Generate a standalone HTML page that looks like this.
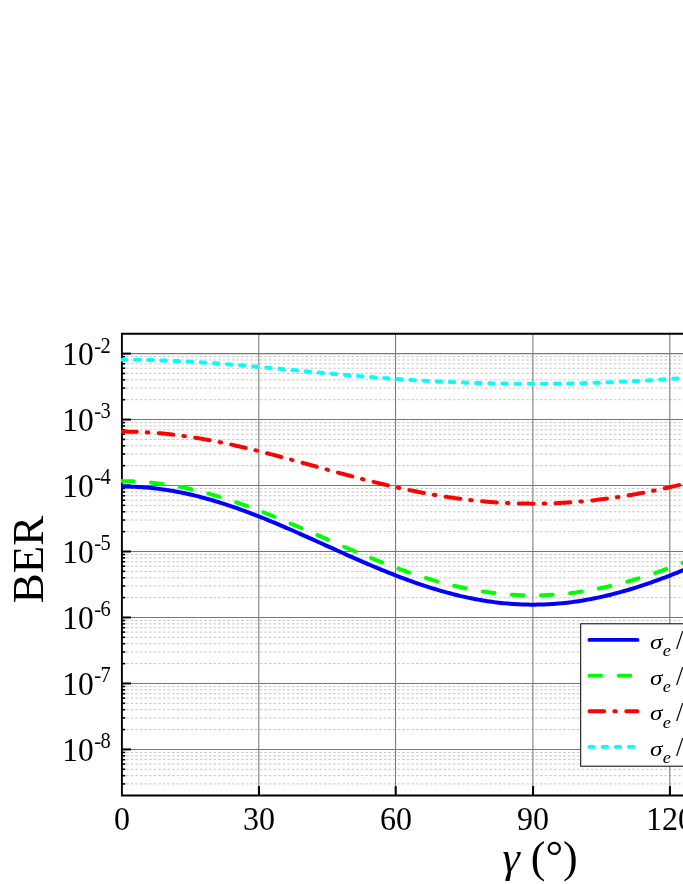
<!DOCTYPE html><html><head><meta charset="utf-8"><style>html,body{margin:0;padding:0;background:#fff}body{width:683px;height:884px;overflow:hidden}svg{display:block;will-change:transform}text{font-family:"Liberation Serif",serif;fill:#000}</style></head><body>
<svg width="683" height="884" viewBox="0 0 683 884">
<rect width="683" height="884" fill="#fff"/>
<g stroke="#c6c6c6" stroke-width="1" stroke-dasharray="2.6 2" fill="none">
<path d="M121.54,783.91H683"/>
<path d="M121.54,775.67H683"/>
<path d="M121.54,769.28H683"/>
<path d="M121.54,764.06H683"/>
<path d="M121.54,759.64H683"/>
<path d="M121.54,755.81H683"/>
<path d="M121.54,752.44H683"/>
<path d="M121.54,729.56H683"/>
<path d="M121.54,717.94H683"/>
<path d="M121.54,709.70H683"/>
<path d="M121.54,703.31H683"/>
<path d="M121.54,698.09H683"/>
<path d="M121.54,693.67H683"/>
<path d="M121.54,689.84H683"/>
<path d="M121.54,686.47H683"/>
<path d="M121.54,663.59H683"/>
<path d="M121.54,651.97H683"/>
<path d="M121.54,643.73H683"/>
<path d="M121.54,637.34H683"/>
<path d="M121.54,632.12H683"/>
<path d="M121.54,627.70H683"/>
<path d="M121.54,623.87H683"/>
<path d="M121.54,620.50H683"/>
<path d="M121.54,597.62H683"/>
<path d="M121.54,586.00H683"/>
<path d="M121.54,577.76H683"/>
<path d="M121.54,571.37H683"/>
<path d="M121.54,566.15H683"/>
<path d="M121.54,561.73H683"/>
<path d="M121.54,557.90H683"/>
<path d="M121.54,554.53H683"/>
<path d="M121.54,531.65H683"/>
<path d="M121.54,520.03H683"/>
<path d="M121.54,511.79H683"/>
<path d="M121.54,505.40H683"/>
<path d="M121.54,500.18H683"/>
<path d="M121.54,495.76H683"/>
<path d="M121.54,491.93H683"/>
<path d="M121.54,488.56H683"/>
<path d="M121.54,465.68H683"/>
<path d="M121.54,454.06H683"/>
<path d="M121.54,445.82H683"/>
<path d="M121.54,439.43H683"/>
<path d="M121.54,434.21H683"/>
<path d="M121.54,429.79H683"/>
<path d="M121.54,425.96H683"/>
<path d="M121.54,422.59H683"/>
<path d="M121.54,399.71H683"/>
<path d="M121.54,388.09H683"/>
<path d="M121.54,379.85H683"/>
<path d="M121.54,373.46H683"/>
<path d="M121.54,368.24H683"/>
<path d="M121.54,363.82H683"/>
<path d="M121.54,359.99H683"/>
<path d="M121.54,356.62H683"/>
</g>
<g stroke="#787878" stroke-width="1.05" fill="none">
<path d="M121.9,749.42H683"/>
<path d="M121.9,683.45H683"/>
<path d="M121.9,617.48H683"/>
<path d="M121.9,551.51H683"/>
<path d="M121.9,485.54H683"/>
<path d="M121.9,419.57H683"/>
<path d="M121.9,353.60H683"/>
<path d="M258.80,333.7V795.5"/>
<path d="M395.55,333.7V795.5"/>
<path d="M532.90,333.7V795.5"/>
<path d="M669.80,333.7V795.5"/>
</g>
<g stroke="#000" stroke-width="2" fill="none">
<path d="M121.9,749.42H131.0"/>
<path d="M121.9,683.45H131.0"/>
<path d="M121.9,617.48H131.0"/>
<path d="M121.9,551.51H131.0"/>
<path d="M121.9,485.54H131.0"/>
<path d="M121.9,419.57H131.0"/>
<path d="M121.9,353.60H131.0"/>
<path d="M258.95,795.5V786.1" stroke-width="2.1"/>
<path d="M395.70,795.5V786.1" stroke-width="2.1"/>
<path d="M533.05,795.5V786.1" stroke-width="2.1"/>
<path d="M669.95,795.5V786.1" stroke-width="2.1"/>
</g>
<g stroke="#000" stroke-width="1.6" fill="none">
<path d="M121.9,783.91H125.2"/>
<path d="M121.9,775.67H125.2"/>
<path d="M121.9,769.28H125.2"/>
<path d="M121.9,764.06H125.2"/>
<path d="M121.9,759.64H125.2"/>
<path d="M121.9,755.81H125.2"/>
<path d="M121.9,752.44H125.2"/>
<path d="M121.9,729.56H125.2"/>
<path d="M121.9,717.94H125.2"/>
<path d="M121.9,709.70H125.2"/>
<path d="M121.9,703.31H125.2"/>
<path d="M121.9,698.09H125.2"/>
<path d="M121.9,693.67H125.2"/>
<path d="M121.9,689.84H125.2"/>
<path d="M121.9,686.47H125.2"/>
<path d="M121.9,663.59H125.2"/>
<path d="M121.9,651.97H125.2"/>
<path d="M121.9,643.73H125.2"/>
<path d="M121.9,637.34H125.2"/>
<path d="M121.9,632.12H125.2"/>
<path d="M121.9,627.70H125.2"/>
<path d="M121.9,623.87H125.2"/>
<path d="M121.9,620.50H125.2"/>
<path d="M121.9,597.62H125.2"/>
<path d="M121.9,586.00H125.2"/>
<path d="M121.9,577.76H125.2"/>
<path d="M121.9,571.37H125.2"/>
<path d="M121.9,566.15H125.2"/>
<path d="M121.9,561.73H125.2"/>
<path d="M121.9,557.90H125.2"/>
<path d="M121.9,554.53H125.2"/>
<path d="M121.9,531.65H125.2"/>
<path d="M121.9,520.03H125.2"/>
<path d="M121.9,511.79H125.2"/>
<path d="M121.9,505.40H125.2"/>
<path d="M121.9,500.18H125.2"/>
<path d="M121.9,495.76H125.2"/>
<path d="M121.9,491.93H125.2"/>
<path d="M121.9,488.56H125.2"/>
<path d="M121.9,465.68H125.2"/>
<path d="M121.9,454.06H125.2"/>
<path d="M121.9,445.82H125.2"/>
<path d="M121.9,439.43H125.2"/>
<path d="M121.9,434.21H125.2"/>
<path d="M121.9,429.79H125.2"/>
<path d="M121.9,425.96H125.2"/>
<path d="M121.9,422.59H125.2"/>
<path d="M121.9,399.71H125.2"/>
<path d="M121.9,388.09H125.2"/>
<path d="M121.9,379.85H125.2"/>
<path d="M121.9,373.46H125.2"/>
<path d="M121.9,368.24H125.2"/>
<path d="M121.9,363.82H125.2"/>
<path d="M121.9,359.99H125.2"/>
<path d="M121.9,356.62H125.2"/>
</g>
<path d="M121.90,333.74V795.53H684M121.90,333.74H684" stroke="#000" stroke-width="1.9" fill="none" stroke-linecap="square"/>
<clipPath id="cp"><rect x="121" y="333.7" width="600" height="461.8"/></clipPath>
<g fill="none" stroke-width="4" stroke-linecap="round" stroke-linejoin="round" clip-path="url(#cp)">
<path stroke="#0000ff" d="M121.90,486.50 L124.18,486.51 L126.47,486.53 L128.75,486.58 L131.03,486.64 L133.32,486.73 L135.60,486.83 L137.88,486.94 L140.17,487.08 L142.45,487.24 L144.73,487.41 L147.02,487.60 L149.30,487.81 L151.58,488.04 L153.87,488.28 L156.15,488.54 L158.43,488.83 L160.72,489.12 L163.00,489.44 L165.28,489.77 L167.57,490.12 L169.85,490.49 L172.13,490.87 L174.42,491.27 L176.70,491.69 L178.98,492.13 L181.27,492.58 L183.55,493.04 L185.83,493.53 L188.12,494.03 L190.40,494.54 L192.68,495.07 L194.97,495.62 L197.25,496.18 L199.53,496.76 L201.82,497.35 L204.10,497.96 L206.38,498.58 L208.67,499.22 L210.95,499.87 L213.23,500.54 L215.52,501.21 L217.80,501.91 L220.08,502.61 L222.37,503.33 L224.65,504.06 L226.93,504.81 L229.22,505.57 L231.50,506.33 L233.78,507.12 L236.07,507.91 L238.35,508.71 L240.63,509.53 L242.92,510.36 L245.20,511.19 L247.48,512.04 L249.77,512.90 L252.05,513.77 L254.33,514.65 L256.62,515.53 L258.90,516.43 L261.18,517.34 L263.47,518.25 L265.75,519.17 L268.03,520.10 L270.32,521.04 L272.60,521.98 L274.88,522.94 L277.17,523.90 L279.45,524.86 L281.73,525.83 L284.02,526.81 L286.30,527.79 L288.58,528.78 L290.87,529.78 L293.15,530.78 L295.43,531.78 L297.72,532.78 L300.00,533.80 L302.28,534.81 L304.57,535.83 L306.85,536.85 L309.13,537.87 L311.42,538.89 L313.70,539.92 L315.98,540.95 L318.27,541.98 L320.55,543.01 L322.83,544.04 L325.12,545.07 L327.40,546.10 L329.68,547.13 L331.97,548.16 L334.25,549.19 L336.53,550.22 L338.82,551.25 L341.10,552.27 L343.38,553.29 L345.67,554.31 L347.95,555.33 L350.24,556.34 L352.52,557.35 L354.80,558.36 L357.09,559.36 L359.37,560.36 L361.65,561.36 L363.94,562.34 L366.22,563.33 L368.50,564.31 L370.79,565.28 L373.07,566.24 L375.35,567.20 L377.64,568.16 L379.92,569.10 L382.20,570.04 L384.49,570.97 L386.77,571.90 L389.05,572.81 L391.34,573.72 L393.62,574.62 L395.90,575.51 L398.19,576.39 L400.47,577.26 L402.75,578.12 L405.04,578.97 L407.32,579.81 L409.60,580.64 L411.89,581.46 L414.17,582.27 L416.45,583.07 L418.74,583.86 L421.02,584.63 L423.30,585.39 L425.59,586.14 L427.87,586.88 L430.15,587.61 L432.44,588.32 L434.72,589.02 L437.00,589.71 L439.29,590.39 L441.57,591.05 L443.85,591.69 L446.14,592.33 L448.42,592.94 L450.70,593.55 L452.99,594.14 L455.27,594.71 L457.55,595.27 L459.84,595.82 L462.12,596.35 L464.40,596.87 L466.69,597.37 L468.97,597.85 L471.25,598.32 L473.54,598.77 L475.82,599.21 L478.10,599.63 L480.39,600.03 L482.67,600.42 L484.95,600.79 L487.24,601.15 L489.52,601.49 L491.80,601.81 L494.09,602.11 L496.37,602.40 L498.65,602.67 L500.94,602.92 L503.22,603.16 L505.50,603.38 L507.79,603.58 L510.07,603.77 L512.35,603.93 L514.64,604.08 L516.92,604.22 L519.20,604.33 L521.49,604.43 L523.77,604.51 L526.05,604.57 L528.34,604.61 L530.62,604.64 L532.90,604.65 L535.19,604.64 L537.47,604.61 L539.75,604.57 L542.04,604.51 L544.32,604.43 L546.60,604.33 L548.89,604.22 L551.17,604.08 L553.45,603.93 L555.74,603.77 L558.02,603.58 L560.30,603.38 L562.59,603.16 L564.87,602.92 L567.15,602.67 L569.44,602.40 L571.72,602.11 L574.00,601.81 L576.29,601.49 L578.57,601.15 L580.85,600.79 L583.14,600.42 L585.42,600.03 L587.70,599.63 L589.99,599.21 L592.27,598.77 L594.55,598.32 L596.84,597.85 L599.12,597.37 L601.40,596.87 L603.69,596.35 L605.97,595.82 L608.25,595.27 L610.54,594.71 L612.82,594.14 L615.10,593.55 L617.39,592.94 L619.67,592.33 L621.95,591.69 L624.24,591.05 L626.52,590.39 L628.80,589.71 L631.09,589.02 L633.37,588.32 L635.65,587.61 L637.94,586.88 L640.22,586.14 L642.50,585.39 L644.79,584.63 L647.07,583.86 L649.35,583.07 L651.64,582.27 L653.92,581.46 L656.20,580.64 L658.49,579.81 L660.77,578.97 L663.05,578.12 L665.34,577.26 L667.62,576.39 L669.90,575.51 L672.19,574.62 L674.47,573.72 L676.75,572.81 L679.04,571.90 L681.32,570.97 L683.60,570.04 L685.89,569.10 L688.17,568.16 L690.45,567.20 L692.74,566.24 L695.02,565.28 L697.30,564.31 L699.59,563.33 L701.87,562.34 L704.15,561.36 L706.44,560.36 L708.72,559.36 L711.00,558.36 L713.29,557.35 L715.57,556.34"/>
<path stroke="#00ff00" stroke-dasharray="11.8 17.4" d="M121.90,481.12 L124.18,481.13 L126.47,481.16 L128.75,481.20 L131.03,481.26 L133.32,481.35 L135.60,481.45 L137.88,481.56 L140.17,481.70 L142.45,481.85 L144.73,482.02 L147.02,482.21 L149.30,482.42 L151.58,482.64 L153.87,482.89 L156.15,483.15 L158.43,483.42 L160.72,483.72 L163.00,484.03 L165.28,484.36 L167.57,484.70 L169.85,485.07 L172.13,485.45 L174.42,485.84 L176.70,486.26 L178.98,486.68 L181.27,487.13 L183.55,487.59 L185.83,488.07 L188.12,488.56 L190.40,489.07 L192.68,489.60 L194.97,490.13 L197.25,490.69 L199.53,491.26 L201.82,491.84 L204.10,492.44 L206.38,493.05 L208.67,493.68 L210.95,494.32 L213.23,494.98 L215.52,495.64 L217.80,496.33 L220.08,497.02 L222.37,497.73 L224.65,498.45 L226.93,499.18 L229.22,499.92 L231.50,500.68 L233.78,501.45 L236.07,502.22 L238.35,503.01 L240.63,503.81 L242.92,504.63 L245.20,505.45 L247.48,506.28 L249.77,507.12 L252.05,507.97 L254.33,508.83 L256.62,509.70 L258.90,510.58 L261.18,511.46 L263.47,512.35 L265.75,513.26 L268.03,514.17 L270.32,515.08 L272.60,516.00 L274.88,516.93 L277.17,517.87 L279.45,518.81 L281.73,519.76 L284.02,520.71 L286.30,521.67 L288.58,522.63 L290.87,523.60 L293.15,524.57 L295.43,525.55 L297.72,526.53 L300.00,527.51 L302.28,528.49 L304.57,529.48 L306.85,530.47 L309.13,531.46 L311.42,532.46 L313.70,533.45 L315.98,534.45 L318.27,535.45 L320.55,536.44 L322.83,537.44 L325.12,538.44 L327.40,539.44 L329.68,540.43 L331.97,541.43 L334.25,542.42 L336.53,543.42 L338.82,544.41 L341.10,545.40 L343.38,546.38 L345.67,547.37 L347.95,548.35 L350.24,549.32 L352.52,550.30 L354.80,551.26 L357.09,552.23 L359.37,553.19 L361.65,554.14 L363.94,555.09 L366.22,556.04 L368.50,556.98 L370.79,557.91 L373.07,558.84 L375.35,559.76 L377.64,560.67 L379.92,561.58 L382.20,562.48 L384.49,563.37 L386.77,564.25 L389.05,565.13 L391.34,566.00 L393.62,566.86 L395.90,567.71 L398.19,568.55 L400.47,569.38 L402.75,570.20 L405.04,571.01 L407.32,571.82 L409.60,572.61 L411.89,573.39 L414.17,574.16 L416.45,574.92 L418.74,575.67 L421.02,576.41 L423.30,577.13 L425.59,577.85 L427.87,578.55 L430.15,579.24 L432.44,579.92 L434.72,580.58 L437.00,581.24 L439.29,581.88 L441.57,582.50 L443.85,583.12 L446.14,583.72 L448.42,584.31 L450.70,584.88 L452.99,585.44 L455.27,585.98 L457.55,586.52 L459.84,587.03 L462.12,587.54 L464.40,588.02 L466.69,588.50 L468.97,588.95 L471.25,589.40 L473.54,589.83 L475.82,590.24 L478.10,590.64 L480.39,591.02 L482.67,591.39 L484.95,591.74 L487.24,592.07 L489.52,592.39 L491.80,592.70 L494.09,592.99 L496.37,593.26 L498.65,593.51 L500.94,593.75 L503.22,593.98 L505.50,594.18 L507.79,594.37 L510.07,594.55 L512.35,594.71 L514.64,594.85 L516.92,594.97 L519.20,595.08 L521.49,595.17 L523.77,595.25 L526.05,595.31 L528.34,595.35 L530.62,595.37 L532.90,595.38 L535.19,595.37 L537.47,595.35 L539.75,595.31 L542.04,595.25 L544.32,595.17 L546.60,595.08 L548.89,594.97 L551.17,594.85 L553.45,594.71 L555.74,594.55 L558.02,594.37 L560.30,594.18 L562.59,593.98 L564.87,593.75 L567.15,593.51 L569.44,593.26 L571.72,592.99 L574.00,592.70 L576.29,592.39 L578.57,592.07 L580.85,591.74 L583.14,591.39 L585.42,591.02 L587.70,590.64 L589.99,590.24 L592.27,589.83 L594.55,589.40 L596.84,588.95 L599.12,588.50 L601.40,588.02 L603.69,587.54 L605.97,587.03 L608.25,586.52 L610.54,585.98 L612.82,585.44 L615.10,584.88 L617.39,584.31 L619.67,583.72 L621.95,583.12 L624.24,582.50 L626.52,581.88 L628.80,581.24 L631.09,580.58 L633.37,579.92 L635.65,579.24 L637.94,578.55 L640.22,577.85 L642.50,577.13 L644.79,576.41 L647.07,575.67 L649.35,574.92 L651.64,574.16 L653.92,573.39 L656.20,572.61 L658.49,571.82 L660.77,571.01 L663.05,570.20 L665.34,569.38 L667.62,568.55 L669.90,567.71 L672.19,566.86 L674.47,566.00 L676.75,565.13 L679.04,564.25 L681.32,563.37 L683.60,562.48 L685.89,561.58 L688.17,560.67 L690.45,559.76 L692.74,558.84 L695.02,557.91 L697.30,556.98 L699.59,556.04 L701.87,555.09 L704.15,554.14 L706.44,553.19 L708.72,552.23 L711.00,551.26 L713.29,550.30 L715.57,549.32"/>
<path stroke="#ff0000" stroke-dasharray="14.8 10.05 1.6 10.33" d="M121.90,431.60 L124.18,431.60 L126.47,431.62 L128.75,431.65 L131.03,431.69 L133.32,431.75 L135.60,431.82 L137.88,431.90 L140.17,431.99 L142.45,432.09 L144.73,432.21 L147.02,432.33 L149.30,432.47 L151.58,432.62 L153.87,432.79 L156.15,432.96 L158.43,433.15 L160.72,433.35 L163.00,433.56 L165.28,433.78 L167.57,434.01 L169.85,434.25 L172.13,434.51 L174.42,434.78 L176.70,435.05 L178.98,435.34 L181.27,435.64 L183.55,435.95 L185.83,436.27 L188.12,436.60 L190.40,436.94 L192.68,437.29 L194.97,437.65 L197.25,438.02 L199.53,438.40 L201.82,438.79 L204.10,439.19 L206.38,439.60 L208.67,440.02 L210.95,440.44 L213.23,440.88 L215.52,441.32 L217.80,441.78 L220.08,442.24 L222.37,442.71 L224.65,443.18 L226.93,443.67 L229.22,444.16 L231.50,444.66 L233.78,445.16 L236.07,445.68 L238.35,446.20 L240.63,446.73 L242.92,447.26 L245.20,447.80 L247.48,448.35 L249.77,448.90 L252.05,449.46 L254.33,450.02 L256.62,450.59 L258.90,451.16 L261.18,451.74 L263.47,452.32 L265.75,452.91 L268.03,453.50 L270.32,454.09 L272.60,454.69 L274.88,455.30 L277.17,455.90 L279.45,456.51 L281.73,457.13 L284.02,457.74 L286.30,458.36 L288.58,458.98 L290.87,459.60 L293.15,460.23 L295.43,460.85 L297.72,461.48 L300.00,462.11 L302.28,462.74 L304.57,463.37 L306.85,464.00 L309.13,464.63 L311.42,465.27 L313.70,465.90 L315.98,466.53 L318.27,467.16 L320.55,467.80 L322.83,468.43 L325.12,469.06 L327.40,469.69 L329.68,470.32 L331.97,470.94 L334.25,471.57 L336.53,472.19 L338.82,472.81 L341.10,473.43 L343.38,474.05 L345.67,474.66 L347.95,475.27 L350.24,475.88 L352.52,476.48 L354.80,477.09 L357.09,477.69 L359.37,478.28 L361.65,478.87 L363.94,479.46 L366.22,480.04 L368.50,480.62 L370.79,481.19 L373.07,481.76 L375.35,482.33 L377.64,482.89 L379.92,483.45 L382.20,484.00 L384.49,484.54 L386.77,485.08 L389.05,485.61 L391.34,486.14 L393.62,486.66 L395.90,487.18 L398.19,487.69 L400.47,488.19 L402.75,488.69 L405.04,489.18 L407.32,489.67 L409.60,490.14 L411.89,490.61 L414.17,491.08 L416.45,491.53 L418.74,491.98 L421.02,492.43 L423.30,492.86 L425.59,493.29 L427.87,493.71 L430.15,494.12 L432.44,494.53 L434.72,494.92 L437.00,495.31 L439.29,495.69 L441.57,496.06 L443.85,496.43 L446.14,496.78 L448.42,497.13 L450.70,497.47 L452.99,497.80 L455.27,498.13 L457.55,498.44 L459.84,498.74 L462.12,499.04 L464.40,499.33 L466.69,499.61 L468.97,499.88 L471.25,500.14 L473.54,500.39 L475.82,500.63 L478.10,500.86 L480.39,501.09 L482.67,501.30 L484.95,501.51 L487.24,501.71 L489.52,501.89 L491.80,502.07 L494.09,502.24 L496.37,502.40 L498.65,502.55 L500.94,502.69 L503.22,502.82 L505.50,502.94 L507.79,503.05 L510.07,503.15 L512.35,503.24 L514.64,503.33 L516.92,503.40 L519.20,503.46 L521.49,503.51 L523.77,503.56 L526.05,503.59 L528.34,503.62 L530.62,503.63 L532.90,503.64 L535.19,503.63 L537.47,503.62 L539.75,503.59 L542.04,503.56 L544.32,503.51 L546.60,503.46 L548.89,503.40 L551.17,503.33 L553.45,503.24 L555.74,503.15 L558.02,503.05 L560.30,502.94 L562.59,502.82 L564.87,502.69 L567.15,502.55 L569.44,502.40 L571.72,502.24 L574.00,502.07 L576.29,501.89 L578.57,501.71 L580.85,501.51 L583.14,501.30 L585.42,501.09 L587.70,500.86 L589.99,500.63 L592.27,500.39 L594.55,500.14 L596.84,499.88 L599.12,499.61 L601.40,499.33 L603.69,499.04 L605.97,498.74 L608.25,498.44 L610.54,498.13 L612.82,497.80 L615.10,497.47 L617.39,497.13 L619.67,496.78 L621.95,496.43 L624.24,496.06 L626.52,495.69 L628.80,495.31 L631.09,494.92 L633.37,494.53 L635.65,494.12 L637.94,493.71 L640.22,493.29 L642.50,492.86 L644.79,492.43 L647.07,491.98 L649.35,491.53 L651.64,491.08 L653.92,490.61 L656.20,490.14 L658.49,489.67 L660.77,489.18 L663.05,488.69 L665.34,488.19 L667.62,487.69 L669.90,487.18 L672.19,486.66 L674.47,486.14 L676.75,485.61 L679.04,485.08 L681.32,484.54 L683.60,484.00 L685.89,483.45 L688.17,482.89 L690.45,482.33 L692.74,481.76 L695.02,481.19 L697.30,480.62 L699.59,480.04 L701.87,479.46 L704.15,478.87 L706.44,478.28 L708.72,477.69 L711.00,477.09 L713.29,476.48 L715.57,475.88"/>
<path stroke="#00ffff" stroke-dasharray="4.5 8.65" d="M121.90,359.70 L124.18,359.70 L126.47,359.71 L128.75,359.72 L131.03,359.74 L133.32,359.76 L135.60,359.79 L137.88,359.82 L140.17,359.85 L142.45,359.89 L144.73,359.93 L147.02,359.98 L149.30,360.03 L151.58,360.09 L153.87,360.15 L156.15,360.22 L158.43,360.29 L160.72,360.36 L163.00,360.44 L165.28,360.53 L167.57,360.61 L169.85,360.71 L172.13,360.80 L174.42,360.90 L176.70,361.01 L178.98,361.11 L181.27,361.22 L183.55,361.34 L185.83,361.46 L188.12,361.58 L190.40,361.71 L192.68,361.84 L194.97,361.98 L197.25,362.11 L199.53,362.26 L201.82,362.40 L204.10,362.55 L206.38,362.70 L208.67,362.85 L210.95,363.01 L213.23,363.17 L215.52,363.34 L217.80,363.50 L220.08,363.67 L222.37,363.85 L224.65,364.02 L226.93,364.20 L229.22,364.38 L231.50,364.56 L233.78,364.74 L236.07,364.93 L238.35,365.12 L240.63,365.31 L242.92,365.51 L245.20,365.70 L247.48,365.90 L249.77,366.10 L252.05,366.30 L254.33,366.50 L256.62,366.70 L258.90,366.91 L261.18,367.12 L263.47,367.32 L265.75,367.53 L268.03,367.74 L270.32,367.95 L272.60,368.17 L274.88,368.38 L277.17,368.59 L279.45,368.81 L281.73,369.02 L284.02,369.24 L286.30,369.45 L288.58,369.67 L290.87,369.89 L293.15,370.10 L295.43,370.32 L297.72,370.54 L300.00,370.75 L302.28,370.97 L304.57,371.19 L306.85,371.40 L309.13,371.62 L311.42,371.83 L313.70,372.05 L315.98,372.26 L318.27,372.48 L320.55,372.69 L322.83,372.90 L325.12,373.11 L327.40,373.33 L329.68,373.53 L331.97,373.74 L334.25,373.95 L336.53,374.16 L338.82,374.36 L341.10,374.57 L343.38,374.77 L345.67,374.97 L347.95,375.17 L350.24,375.37 L352.52,375.56 L354.80,375.76 L357.09,375.95 L359.37,376.14 L361.65,376.34 L363.94,376.52 L366.22,376.71 L368.50,376.89 L370.79,377.08 L373.07,377.26 L375.35,377.44 L377.64,377.61 L379.92,377.79 L382.20,377.96 L384.49,378.13 L386.77,378.30 L389.05,378.46 L391.34,378.63 L393.62,378.79 L395.90,378.95 L398.19,379.11 L400.47,379.26 L402.75,379.41 L405.04,379.56 L407.32,379.71 L409.60,379.85 L411.89,380.00 L414.17,380.14 L416.45,380.27 L418.74,380.41 L421.02,380.54 L423.30,380.67 L425.59,380.80 L427.87,380.92 L430.15,381.05 L432.44,381.17 L434.72,381.28 L437.00,381.40 L439.29,381.51 L441.57,381.62 L443.85,381.73 L446.14,381.83 L448.42,381.93 L450.70,382.03 L452.99,382.12 L455.27,382.22 L457.55,382.31 L459.84,382.40 L462.12,382.48 L464.40,382.56 L466.69,382.64 L468.97,382.72 L471.25,382.80 L473.54,382.87 L475.82,382.94 L478.10,383.00 L480.39,383.07 L482.67,383.13 L484.95,383.18 L487.24,383.24 L489.52,383.29 L491.80,383.34 L494.09,383.39 L496.37,383.44 L498.65,383.48 L500.94,383.52 L503.22,383.55 L505.50,383.59 L507.79,383.62 L510.07,383.65 L512.35,383.67 L514.64,383.69 L516.92,383.72 L519.20,383.73 L521.49,383.75 L523.77,383.76 L526.05,383.77 L528.34,383.78 L530.62,383.78 L532.90,383.78 L535.19,383.78 L537.47,383.78 L539.75,383.77 L542.04,383.76 L544.32,383.75 L546.60,383.73 L548.89,383.72 L551.17,383.69 L553.45,383.67 L555.74,383.65 L558.02,383.62 L560.30,383.59 L562.59,383.55 L564.87,383.52 L567.15,383.48 L569.44,383.44 L571.72,383.39 L574.00,383.34 L576.29,383.29 L578.57,383.24 L580.85,383.18 L583.14,383.13 L585.42,383.07 L587.70,383.00 L589.99,382.94 L592.27,382.87 L594.55,382.80 L596.84,382.72 L599.12,382.64 L601.40,382.56 L603.69,382.48 L605.97,382.40 L608.25,382.31 L610.54,382.22 L612.82,382.12 L615.10,382.03 L617.39,381.93 L619.67,381.83 L621.95,381.73 L624.24,381.62 L626.52,381.51 L628.80,381.40 L631.09,381.28 L633.37,381.17 L635.65,381.05 L637.94,380.92 L640.22,380.80 L642.50,380.67 L644.79,380.54 L647.07,380.41 L649.35,380.27 L651.64,380.14 L653.92,380.00 L656.20,379.85 L658.49,379.71 L660.77,379.56 L663.05,379.41 L665.34,379.26 L667.62,379.11 L669.90,378.95 L672.19,378.79 L674.47,378.63 L676.75,378.46 L679.04,378.30 L681.32,378.13 L683.60,377.96 L685.89,377.79 L688.17,377.61 L690.45,377.44 L692.74,377.26 L695.02,377.08 L697.30,376.89 L699.59,376.71 L701.87,376.52 L704.15,376.34 L706.44,376.14 L708.72,375.95 L711.00,375.76 L713.29,375.56 L715.57,375.37"/>
</g>
<rect x="580.7" y="623.8" width="120" height="142.4" fill="#fff" stroke="#000" stroke-width="1"/>
<g fill="none" stroke-width="3.85" stroke-linecap="round">
<path stroke="#0000ff" d="M589.4,639.9H637.5"/>
<path stroke="#00ff00" stroke-dasharray="11.8 17.4" d="M589.4,675.6H637.5"/>
<path stroke="#ff0000" stroke-dasharray="14.8 10.05 1.6 10.33" d="M589.4,711.2H637.5"/>
<path stroke="#00ffff" stroke-dasharray="4.5 8.65" d="M589.4,746.9H637.5"/>
</g>
<text transform="translate(649.90,649.00) scale(1.050,0.915)" font-size="24" font-style="italic">σ</text>
<text transform="translate(662.70,656.20) scale(1.080,0.985)" font-size="17" font-style="italic">e</text>
<text transform="translate(676.05,649.30) scale(1.000,1.000)" font-size="26.5">/</text>
<text transform="translate(649.90,684.70) scale(1.050,0.915)" font-size="24" font-style="italic">σ</text>
<text transform="translate(662.70,691.90) scale(1.080,0.985)" font-size="17" font-style="italic">e</text>
<text transform="translate(676.05,685.00) scale(1.000,1.000)" font-size="26.5">/</text>
<text transform="translate(649.90,720.30) scale(1.050,0.915)" font-size="24" font-style="italic">σ</text>
<text transform="translate(662.70,727.50) scale(1.080,0.985)" font-size="17" font-style="italic">e</text>
<text transform="translate(676.05,720.60) scale(1.000,1.000)" font-size="26.5">/</text>
<text transform="translate(649.90,756.00) scale(1.050,0.915)" font-size="24" font-style="italic">σ</text>
<text transform="translate(662.70,763.20) scale(1.080,0.985)" font-size="17" font-style="italic">e</text>
<text transform="translate(676.05,756.30) scale(1.000,1.000)" font-size="26.5">/</text>
<text transform="translate(62.20,761.12) scale(0.985,1.030)" font-size="32">10</text>
<text transform="translate(94.20,748.32) scale(0.950,1.000)" font-size="22">-</text>
<text transform="translate(100.60,748.32) scale(0.930,1.060)" font-size="22">8</text>
<text transform="translate(62.20,695.15) scale(0.985,1.030)" font-size="32">10</text>
<text transform="translate(94.20,682.35) scale(0.950,1.000)" font-size="22">-</text>
<text transform="translate(100.60,682.35) scale(0.930,1.060)" font-size="22">7</text>
<text transform="translate(62.20,629.18) scale(0.985,1.030)" font-size="32">10</text>
<text transform="translate(94.20,616.38) scale(0.950,1.000)" font-size="22">-</text>
<text transform="translate(100.60,616.38) scale(0.930,1.060)" font-size="22">6</text>
<text transform="translate(62.20,563.21) scale(0.985,1.030)" font-size="32">10</text>
<text transform="translate(94.20,550.41) scale(0.950,1.000)" font-size="22">-</text>
<text transform="translate(100.60,550.41) scale(0.930,1.060)" font-size="22">5</text>
<text transform="translate(62.20,497.24) scale(0.985,1.030)" font-size="32">10</text>
<text transform="translate(94.20,484.44) scale(0.950,1.000)" font-size="22">-</text>
<text transform="translate(100.60,484.44) scale(0.930,1.060)" font-size="22">4</text>
<text transform="translate(62.20,431.27) scale(0.985,1.030)" font-size="32">10</text>
<text transform="translate(94.20,418.47) scale(0.950,1.000)" font-size="22">-</text>
<text transform="translate(100.60,418.47) scale(0.930,1.060)" font-size="22">3</text>
<text transform="translate(62.20,365.30) scale(0.985,1.030)" font-size="32">10</text>
<text transform="translate(94.20,352.50) scale(0.950,1.000)" font-size="22">-</text>
<text transform="translate(100.60,352.50) scale(0.930,1.060)" font-size="22">2</text>
<text transform="translate(121.90,829.80) scale(1.000,1.030)" font-size="32" text-anchor="middle">0</text>
<text transform="translate(258.90,829.80) scale(1.000,1.030)" font-size="32" text-anchor="middle">30</text>
<text transform="translate(395.90,829.80) scale(1.000,1.030)" font-size="32" text-anchor="middle">60</text>
<text transform="translate(532.90,829.80) scale(1.000,1.030)" font-size="32" text-anchor="middle">90</text>
<text transform="translate(669.90,829.80) scale(1.000,1.030)" font-size="32" text-anchor="middle">120</text>
<text transform="translate(42.7,559.4) rotate(-90)" font-size="45" text-anchor="middle">BER</text>
<text x="502.5" y="872.3" font-size="44"><tspan font-style="italic">γ</tspan> (<tspan dy="-1.3">°</tspan><tspan dy="1.3">)</tspan></text>
</svg></body></html>
